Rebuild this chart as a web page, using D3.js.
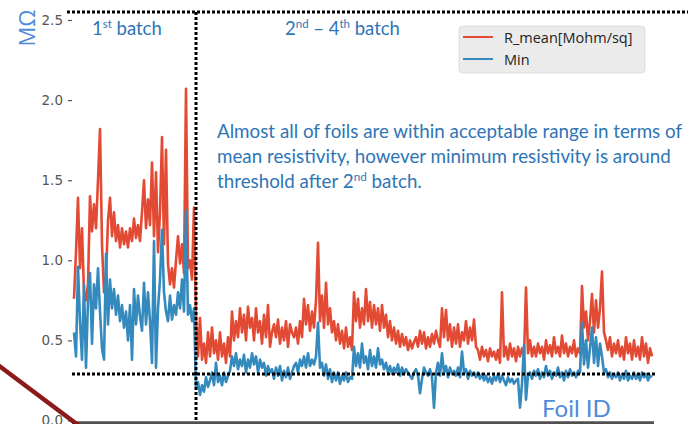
<!DOCTYPE html>
<html>
<head>
<meta charset="utf-8">
<script src="https://cdn.jsdelivr.net/npm/d3@7"></script>
<style>
  html, body { margin: 0; padding: 0; background: #fff; }
  svg { display: block; }
</style>
</head>
<body>
<svg id="chart" width="688" height="424"></svg>
<script>
// Sheet resistance per foil, in order of foil ID (MΩ)
const rMean = [
  0.76,1.05,1.39,0.95,1.20,0.80,0.75,0.85,1.40,1.18,
  1.35,1.20,1.50,1.82,1.10,0.80,0.90,1.25,1.39,1.15,
  1.30,1.12,1.22,1.08,1.20,1.10,1.18,1.08,1.20,1.12,
  1.26,1.14,1.22,1.12,1.30,1.50,1.20,1.38,1.22,1.61,
  1.15,1.55,1.05,1.30,1.77,1.10,1.69,0.98,0.85,0.95,
  0.83,1.00,1.15,0.98,1.10,0.92,2.07,0.95,1.00,0.88,
  1.33,
  0.63,0.40,0.64,0.38,0.48,0.36,0.55,0.40,0.58,0.42,
  0.50,0.38,0.55,0.40,0.48,0.36,0.52,0.40,0.68,0.50,
  0.62,0.52,0.70,0.55,0.66,0.50,0.71,0.58,0.64,0.50,
  0.70,0.55,0.62,0.48,0.66,0.52,0.72,0.46,0.55,0.60,
  0.52,0.63,0.48,0.58,0.50,0.62,0.46,0.60,0.55,0.52,
  0.58,0.48,0.62,0.52,0.76,0.60,0.72,0.56,0.68,0.58,
  0.75,1.11,0.62,0.78,0.58,0.86,0.60,0.70,0.55,0.62,
  0.50,0.60,0.48,0.56,0.45,0.58,0.46,0.52,0.44,0.80,
  0.62,0.76,0.58,0.70,0.60,0.82,0.62,0.74,0.58,0.72,
  0.60,0.70,0.56,0.72,0.58,0.66,0.52,0.62,0.50,0.58,
  0.48,0.56,0.46,0.54,0.47,0.52,0.44,0.50,0.45,0.49,
  0.52,0.46,0.56,0.48,0.55,0.45,0.52,0.46,0.54,0.48,
  0.56,0.50,0.46,0.70,0.52,0.69,0.50,0.60,0.46,0.58,
  0.48,0.60,0.46,0.55,0.50,0.62,0.48,0.58,0.50,0.63,
  0.46,0.44,0.38,0.46,0.40,0.44,0.37,0.45,0.40,0.43,
  0.38,0.44,0.36,0.80,0.40,0.46,0.38,0.48,0.40,0.45,
  0.37,0.46,0.40,0.45,0.40,0.83,0.42,0.50,0.40,0.46,
  0.40,0.48,0.42,0.46,0.38,0.50,0.42,0.47,0.40,0.52,
  0.42,0.46,0.40,0.53,0.42,0.48,0.40,0.46,0.42,0.50,
  0.40,0.45,0.42,0.84,0.58,0.68,0.50,0.62,0.79,0.55,
  0.75,0.58,0.70,0.93,0.55,0.50,0.44,0.52,0.40,0.48,
  0.42,0.50,0.40,0.46,0.38,0.52,0.42,0.48,0.38,0.50,
  0.40,0.46,0.38,0.52,0.40,0.48,0.36,0.45,0.40
];

const rMin = [
  0.55,0.40,0.96,0.62,0.38,0.85,0.33,0.75,0.92,0.48,
  0.85,0.70,0.95,0.68,0.45,0.38,1.04,0.60,0.88,0.70,
  0.82,0.66,0.78,0.62,0.72,0.58,0.68,0.50,0.72,0.38,
  0.82,0.60,0.78,0.65,0.56,0.86,0.60,0.80,0.62,0.36,
  1.12,0.33,0.70,0.88,1.19,0.80,0.68,0.62,0.78,0.63,
  0.72,0.66,0.80,0.70,0.88,0.68,1.31,0.66,0.72,0.62,
  0.70,
  0.20,0.24,0.16,0.22,0.18,0.27,0.21,0.25,0.30,0.22,
  0.36,0.24,0.28,0.22,0.30,0.24,0.28,0.31,0.40,0.34,
  0.42,0.32,0.38,0.34,0.41,0.30,0.38,0.33,0.42,0.35,
  0.40,0.30,0.38,0.33,0.36,0.28,0.34,0.30,0.32,0.26,
  0.33,0.28,0.34,0.25,0.31,0.27,0.33,0.26,0.30,0.34,
  0.36,0.30,0.38,0.34,0.40,0.33,0.42,0.34,0.38,0.35,
  0.40,0.61,0.33,0.36,0.28,0.35,0.26,0.32,0.24,0.30,
  0.25,0.30,0.23,0.28,0.25,0.30,0.24,0.27,0.26,0.46,
  0.34,0.42,0.33,0.48,0.36,0.40,0.32,0.44,0.34,0.40,
  0.33,0.45,0.35,0.38,0.32,0.36,0.30,0.34,0.29,0.33,
  0.30,0.35,0.28,0.33,0.29,0.32,0.30,0.28,0.26,0.30,
  0.32,0.28,0.17,0.26,0.33,0.30,0.28,0.32,0.27,0.08,
  0.30,0.36,0.28,0.42,0.30,0.34,0.27,0.33,0.29,0.31,
  0.28,0.33,0.27,0.43,0.30,0.32,0.26,0.31,0.28,0.30,
  0.27,0.30,0.26,0.29,0.25,0.28,0.24,0.27,0.23,0.28,
  0.25,0.29,0.24,0.28,0.25,0.22,0.27,0.24,0.26,0.23,
  0.25,0.26,0.08,0.23,0.47,0.13,0.28,0.30,0.26,0.31,
  0.28,0.32,0.26,0.30,0.27,0.34,0.28,0.31,0.26,0.30,
  0.28,0.33,0.27,0.30,0.25,0.31,0.27,0.32,0.28,0.30,
  0.27,0.31,0.30,0.61,0.35,0.50,0.33,0.45,0.58,0.36,
  0.52,0.34,0.48,0.40,0.30,0.32,0.27,0.30,0.26,0.29,
  0.27,0.30,0.25,0.29,0.26,0.31,0.25,0.28,0.26,0.30,
  0.26,0.29,0.25,0.30,0.27,0.29,0.25,0.28,0.27
];

const seriesNames = ["R_mean[Mohm/sq]", "Min"];
const seriesColors = ["#E24A33", "#348ABD"];
const yTicks = [0.0, 0.5, 1.0, 1.5, 2.0, 2.5];
const threshold = 0.29;      // acceptance threshold on resistance
const upperGuide = 2.55;     // top guide line
const batchSplit = 61;       // first foil of the 2nd batch

const svg = d3.select("#chart");

const x = d3.scaleLinear().domain([0, rMean.length - 1]).range([74, 652]);
const y = d3.scaleLinear().domain([0, 2.5]).range([420.5, 20]);

// y axis: tick labels with short outward ticks, no spine
const yAxis = svg.append("g")
  .attr("transform", "translate(72,0)")
  .call(d3.axisLeft(y).tickValues(yTicks).tickFormat(d3.format(".1f")).tickSize(4).tickPadding(5));
yAxis.select(".domain").remove();
yAxis.selectAll(".tick line").attr("stroke", "#555").attr("stroke-width", 1.2);
yAxis.selectAll(".tick text")
  .attr("fill", "#555")
  .style("font-family", "'DejaVu Sans', sans-serif")
  .style("font-size", "13.5px");

// series
const line = d3.line().x((d, i) => x(i)).y(d => y(d));
[rMean, rMin].forEach((s, k) => {
  svg.append("path")
    .datum(s)
    .attr("fill", "none")
    .attr("stroke", seriesColors[k])
    .attr("stroke-width", 2.6)
    .attr("stroke-linejoin", "round")
    .attr("d", line);
});

// dotted guides
const dotted = (x1, y1, x2, y2) => svg.append("line")
  .attr("x1", x1).attr("y1", y1).attr("x2", x2).attr("y2", y2)
  .attr("stroke", "#000").attr("stroke-width", 3).attr("stroke-dasharray", "3,2");
dotted(67, y(upperGuide), 688, y(upperGuide));
dotted(x(batchSplit), y(upperGuide), x(batchSplit), 424);
dotted(x(0) - 2, y(threshold), x(rMean.length - 1) + 3, y(threshold));

// bottom axis bar
svg.append("line")
  .attr("x1", x(0) - 2).attr("x2", x(rMean.length - 1) + 2)
  .attr("y1", 423).attr("y2", 423)
  .attr("stroke", "#505050").attr("stroke-width", 3.5);

// diagonal accent stroke
svg.append("line")
  .attr("x1", -2).attr("y1", 365).attr("x2", 82).attr("y2", 428)
  .attr("stroke", "#8B1A1A").attr("stroke-width", 4.5);

// legend
const lg = svg.append("g").attr("transform", "translate(459,26)");
lg.append("rect").attr("width", 186).attr("height", 47).attr("rx", 4)
  .attr("fill", "#ebebeb").attr("stroke", "#d8d8d8").attr("stroke-width", 0.8);
seriesNames.forEach((name, k) => {
  const yy = 11 + k * 22;
  lg.append("line").attr("x1", 4).attr("x2", 34).attr("y1", yy).attr("y2", yy)
    .attr("stroke", seriesColors[k]).attr("stroke-width", 2);
  lg.append("text").attr("x", 45).attr("y", yy + 5.5)
    .attr("fill", "#222")
    .style("font-family", "'Open Sans', sans-serif").style("font-size", "14.5px")
    .text(name);
});

// text with superscript ordinal, e.g. ["1", "st", " batch"]
function supText(sel, parts, size) {
  parts.forEach((p, i) => {
    const t = sel.append("tspan").text(p);
    if (i % 2 === 1) t.attr("dy", -size * 0.38).style("font-size", (size * 0.62) + "px");
    else if (i > 0) t.attr("dy", size * 0.38);
  });
}

const blue = "#2E75B6";
const font = "Lato, 'Open Sans', sans-serif";

const b1 = svg.append("text").attr("x", 92).attr("y", 35)
  .attr("fill", blue).style("font-family", font).style("font-size", "18.5px");
supText(b1, ["1", "st", " batch"], 18.5);

const b2 = svg.append("text").attr("x", 285).attr("y", 35)
  .attr("fill", blue).style("font-family", font).style("font-size", "18.5px");
supText(b2, ["2", "nd", " – 4", "th", " batch"], 18.5);

const note = [
  ["Almost all of foils are within acceptable range in terms of"],
  ["mean resistivity, however minimum resistivity is around"],
  ["threshold after 2", "nd", " batch."]
];
note.forEach((parts, i) => {
  const t = svg.append("text").attr("x", 217).attr("y", 138 + i * 25)
    .attr("fill", blue).style("font-family", font).style("font-size", "18.8px");
  supText(t, parts, 18.8);
});

// axis captions
svg.append("text").attr("x", 542).attr("y", 417)
  .attr("fill", "#4F8BDB").style("font-family", font).style("font-size", "24px")
  .text("Foil ID");

svg.append("text")
  .attr("transform", "translate(35,28) rotate(-90)")
  .attr("text-anchor", "middle")
  .attr("fill", "#4F8BDB").style("font-family", "'Open Sans', sans-serif").style("font-size", "22px")
  .text("MΩ");
</script>
</body>
</html>
